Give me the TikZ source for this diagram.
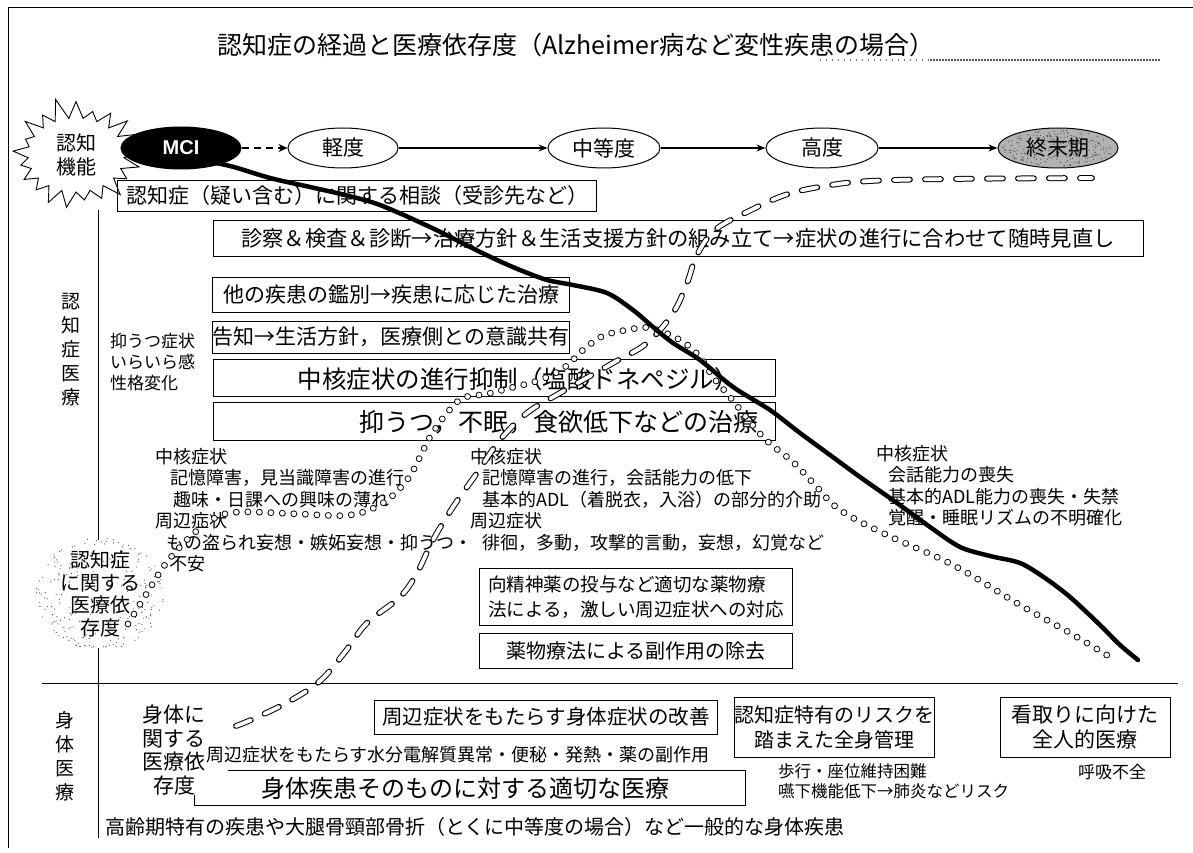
\documentclass[tikz,border=0pt]{standalone}
\usepackage{fontspec}
\setmainfont{Noto Sans CJK JP}
\newfontfamily\lsans{Liberation Sans}
\usetikzlibrary{shapes.geometric,shapes.symbols,arrows.meta}
\begin{document}
\begin{tikzpicture}[x=1pt,y=-1pt,
  bx/.style={draw, line width=1pt, inner sep=0pt, rectangle, align=center},
  stage/.style={ellipse, draw, line width=1pt, minimum width=112pt, minimum height=40pt, inner sep=0pt, font=\fontsize{21pt}{21pt}\selectfont},
  arr/.style={line width=1.3pt, -{Stealth[length=9pt,width=7pt]}},
  txt/.style={inner sep=0pt, align=left, font=\fontsize{18pt}{21.5pt}\selectfont},
  chain/.style={draw=black, line width=1pt, double=white, double distance=4.8pt, dash pattern=on 0.01pt off 11.5pt, line cap=round},
  hollowdash/.style={draw=black, line width=1pt, double=white, double distance=3.8pt, dash pattern=on 16pt off 15pt, line cap=round},
  thickline/.style={line width=4.5pt, line cap=round, line join=round}
]
\useasboundingbox (0,0) rectangle (1193,853);
\fill[white] (0,0) rectangle (1193,853);

% frame and separators
\draw[line width=1pt] (8,848) -- (8,8) -- (1193,8);
\draw[line width=1pt] (98,210) -- (98,838);
\draw[line width=1pt] (42,683) -- (1178,683);
\draw[black!55, line width=1.6pt, dash pattern=on 1pt off 5pt] (820,60) -- (930,60);
\draw[black!65, line width=1.8pt, dash pattern=on 1.5pt off 1.5pt] (930,60) -- (1160,60);

% title
\node[font=\fontsize{25pt}{25pt}\selectfont] (title) at (576,45) {認知症の経過と医療依存度（Alzheimer病など変性疾患の場合）};

% cognition starburst
\node[starburst, draw, line width=0.9pt, fill=white, starburst points=21, starburst point height=22pt, minimum width=140pt, minimum height=118pt, random starburst=11, align=center, font=\fontsize{20pt}{24pt}\selectfont] (cogn) at (76,155) {認知\\機能};

% stages
\node[stage, fill=black, minimum width=120pt, minimum height=42pt, text=white, font=\lsans\bfseries\fontsize{20pt}{20pt}\selectfont] (mci) at (181,148) {MCI};
\node[stage, minimum width=110pt] (light) at (343,148) {軽度};
\node[stage] (mid) at (604,148) {中等度};
\node[stage] (sev) at (822,148) {高度};
\node[stage, fill=black!30, minimum width=120pt] (term) at (1058,148) {};
\pgfmathsetseed{5}
\foreach \i in {1,...,260}{
  \pgfmathsetmacro{\ang}{360*rnd}\pgfmathsetmacro{\rr}{0.95*sqrt(rnd)}
  \fill[black!75] ({1058+58*\rr*cos(\ang)},{148+19*\rr*sin(\ang)}) circle (0.55);
}
\node[font=\fontsize{21pt}{21pt}\selectfont] (termt) at (1058,148) {終末期};

\draw[line width=2.2pt, dash pattern=on 7pt off 5pt, -{Stealth[length=9pt,width=8pt]}] (mci) -- (light);
\draw[arr] (light) -- (mid);
\draw[arr] (mid) -- (sev);
\draw[arr] (sev) -- (term);

% section labels
\node[align=center, font=\fontsize{19pt}{24pt}\selectfont] (secA) at (71,350) {認\\知\\症\\医\\療};
\node[align=center, font=\fontsize{19pt}{24pt}\selectfont] (secB) at (65,756) {身\\体\\医\\療};

% dementia medical boxes
\node[bx, minimum width=479pt, minimum height=31pt, font=\fontsize{21pt}{21pt}\selectfont] (b1) at (357,196) {認知症（疑い含む）に関する相談（受診先など）};
\node[bx, minimum width=930pt, minimum height=36pt, font=\fontsize{21.3pt}{21pt}\selectfont] (b2) at (678,238) {診察＆検査＆診断→治療方針＆生活支援方針の組み立て→症状の進行に合わせて随時見直し};
\node[bx, minimum width=357pt, minimum height=35pt, font=\fontsize{21pt}{21pt}\selectfont] (b3) at (391,295) {他の疾患の鑑別→疾患に応じた治療};
\node[bx, minimum width=357pt, minimum height=32pt, font=\fontsize{21pt}{21pt}\selectfont] (b4) at (391,337) {告知→生活方針，医療側との意識共有};
\node[bx, minimum width=562pt, minimum height=37pt] (b5) at (494,378) {};
\node[inner sep=0pt, font=\fontsize{24.5pt}{24pt}\selectfont] (b5t) at (518,379) {中核症状の進行抑制（塩酸ドネペジル）};
\node[bx, minimum width=562pt, minimum height=38pt] (b6) at (494,421) {};
\node[inner sep=0pt, font=\fontsize{25pt}{25pt}\selectfont] (b6t) at (559,422) {抑うつ，不眠，食欲低下などの治療};

\node[txt, anchor=north west, font=\fontsize{17pt}{21pt}\selectfont] (early) at (110,333) {抑うつ症状\\いらいら感\\性格変化};

\node[txt, anchor=north west] (symL) at (155,448) {中核症状\\\hspace*{15pt}記憶障害，見当識障害の進行\\\hspace*{18pt}趣味・日課への興味の薄れ\\周辺症状\\\hspace*{11pt}もの盗られ妄想・嫉妬妄想・抑うつ・\\\hspace*{14pt}不安};
\node[txt, anchor=north west] (symM) at (470,448) {中核症状\\\hspace*{12pt}記憶障害の進行，会話能力の低下\\\hspace*{12pt}基本的ADL（着脱衣，入浴）の部分的介助\\周辺症状\\\hspace*{12pt}徘徊，多動，攻撃的言動，妄想，幻覚など};
\node[txt, anchor=north west] (symR) at (876,445) {中核症状\\\hspace*{12pt}会話能力の喪失\\\hspace*{12pt}基本的ADL能力の喪失・失禁\\\hspace*{12pt}覚醒・睡眠リズムの不明確化};

\node[bx, minimum width=313pt, minimum height=57pt, align=left, font=\fontsize{18.5pt}{25pt}\selectfont] (b7) at (636,597) {向精神薬の投与など適切な薬物療\\法による，激しい周辺症状への対応};
\node[bx, minimum width=313pt, minimum height=35pt, font=\fontsize{20pt}{20pt}\selectfont] (b8) at (636,651) {薬物療法による副作用の除去};

% dementia dependence cloud
\fill[white] (100,594) ellipse (60 and 54);
\pgfmathsetseed{12}
\foreach \i in {1,...,240}{
  \pgfmathsetmacro{\ang}{360*rnd}\pgfmathsetmacro{\rr}{0.3+0.7*sqrt(rnd)}
  \fill[black!70] ({100+64*\rr*cos(\ang)},{594+56*\rr*sin(\ang)}) circle (0.6);
}
\node[align=center, inner sep=0pt, font=\fontsize{20pt}{22.5pt}\selectfont] (dep1) at (100,594) {認知症\\に関する\\医療依\\存度};

% physical medicine
\node[align=center, inner sep=0pt, font=\fontsize{21pt}{23.5pt}\selectfont] (dep2) at (174,750) {身体に\\関する\\医療依\\存度};
\node[bx, minimum width=343pt, minimum height=34pt, font=\fontsize{20.5pt}{20pt}\selectfont] (b9) at (546,717) {周辺症状をもたらす身体症状の改善};
\node[inner sep=0pt, font=\fontsize{18pt}{18pt}\selectfont] (t10) at (458,755) {周辺症状をもたらす水分電解質異常・便秘・発熱・薬の副作用};
\draw[line width=1pt] (228,770) -- (745,770) -- (745,805) -- (194,805) -- (194,795);
\node[inner sep=0pt, font=\fontsize{24pt}{24pt}\selectfont] (b11) at (465,788) {身体疾患そのものに対する適切な医療};
\node[bx, minimum width=198pt, minimum height=60pt, font=\fontsize{20pt}{25pt}\selectfont] (b12) at (834,727) {認知症特有のリスクを\\踏まえた全身管理};
\node[bx, minimum width=170pt, minimum height=60pt, font=\fontsize{21pt}{25pt}\selectfont] (b13) at (1085,727) {看取りに向けた\\全人的医療};
\node[txt, anchor=north west, font=\fontsize{16.5pt}{20pt}\selectfont] (risk) at (778,763) {歩行・座位維持困難\\嚥下機能低下→肺炎などリスク};
\node[inner sep=0pt, font=\fontsize{17pt}{17pt}\selectfont] (resp) at (1112,772) {呼吸不全};
\node[inner sep=0pt, anchor=west, font=\fontsize{20pt}{20pt}\selectfont] (general) at (105,827) {高齢期特有の疾患や大腿骨頸部骨折（とくに中等度の場合）など一般的な身体疾患};

% curves
\draw[chain] plot[smooth, tension=0.6] coordinates {(128,624) (147,593) (167,562) (192,535) (215,518) (240,512) (300,514) (350,515) (383,503) (407,480) (420,457) (430,437) (447,413) (463,398) (487,394) (510,388) (540,380) (565,367) (583,350) (603,336) (627,330) (650,328) (680,340) (700,357) (713,377) (730,397) (763,437) (793,462) (815,485) (840,510) (887,535) (953,565) (1020,605) (1070,633) (1110,657)};

\draw[hollowdash] plot[smooth, tension=0.6] coordinates {(236,726) (253,719) (288,702) (320,681) (345,652) (367,623) (400,597) (417,573) (433,540) (453,507) (477,473) (500,440) (527,413) (560,393) (613,363) (647,343) (673,313) (687,283) (697,255) (715,230) (747,212) (785,195) (825,186) (870,181) (950,179) (1092,178)};

\draw[thickline] plot[smooth, tension=0.5] coordinates {(190,158) (230,166) (270,178) (310,187) (345,195) (380,205) (430,227) (470,247) (497,260) (520,270) (547,280) (573,285) (607,293) (633,310) (653,327) (673,343) (700,360) (733,387) (770,410) (800,433) (830,455) (860,477) (897,503) (930,527) (960,547) (990,556) (1020,563) (1045,578) (1070,597) (1100,625) (1120,645) (1138,660)};
\end{tikzpicture}
\end{document}
